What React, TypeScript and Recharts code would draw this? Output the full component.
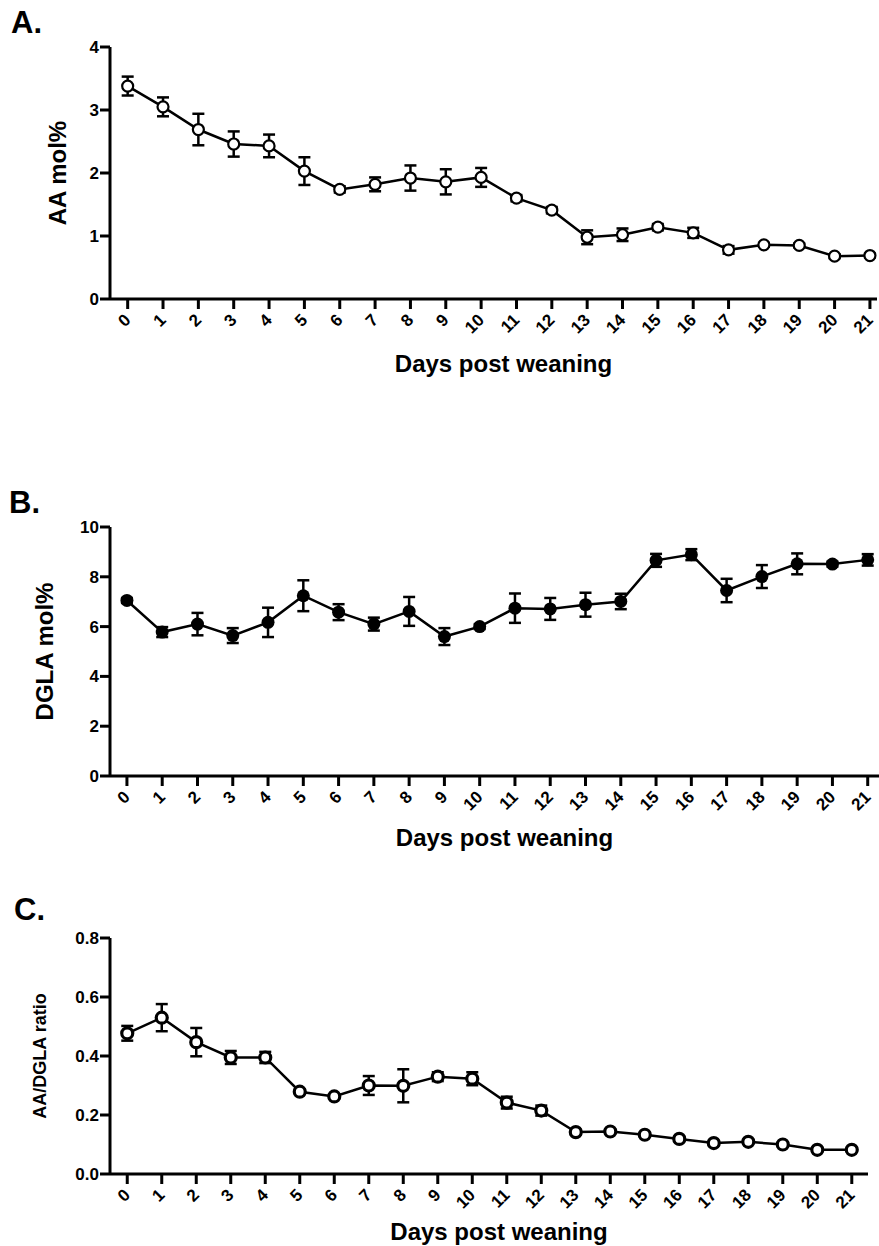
import { LineChart, Line, XAxis, YAxis, ErrorBar } from 'recharts'

const FONT = '"Liberation Sans", Arial, Helvetica, sans-serif'

const days = [0, 1, 2, 3, 4, 5, 6, 7, 8, 9, 10, 11, 12, 13, 14, 15, 16, 17, 18, 19, 20, 21]

const aaMean = [3.38, 3.05, 2.69, 2.46, 2.43, 2.03, 1.74, 1.82, 1.92, 1.86, 1.93, 1.6, 1.41, 0.98, 1.02, 1.14, 1.05, 0.78, 0.86, 0.85, 0.68, 0.69]
const aaSem = [0.15, 0.15, 0.25, 0.2, 0.18, 0.22, 0.05, 0.11, 0.2, 0.2, 0.15, 0.05, 0.05, 0.11, 0.1, 0.05, 0.08, 0.06, 0.03, 0.03, 0.03, 0.03]

const dglaMean = [7.05, 5.78, 6.1, 5.64, 6.17, 7.24, 6.58, 6.1, 6.61, 5.6, 6.0, 6.74, 6.71, 6.88, 7.01, 8.66, 8.89, 7.45, 8.01, 8.52, 8.51, 8.68]
const dglaSem = [0.1, 0.2, 0.45, 0.3, 0.59, 0.62, 0.32, 0.26, 0.58, 0.34, 0.1, 0.59, 0.44, 0.48, 0.31, 0.26, 0.22, 0.47, 0.46, 0.42, 0.1, 0.23]

const ratioMean = [0.477, 0.53, 0.447, 0.395, 0.395, 0.279, 0.263, 0.3, 0.299, 0.33, 0.323, 0.242, 0.215, 0.142, 0.144, 0.133, 0.119, 0.105, 0.109, 0.1, 0.082, 0.082]
const ratioSem = [0.025, 0.046, 0.048, 0.022, 0.019, 0.008, 0.007, 0.032, 0.056, 0.015, 0.022, 0.02, 0.017, 0.008, 0.008, 0.007, 0.007, 0.007, 0.007, 0.007, 0.007, 0.007]

const aaTicks = [0, 1, 2, 3, 4]
const dglaTicks = [0, 2, 4, 6, 8, 10]
const ratioTicks = [0, 0.2, 0.4, 0.6, 0.8]

const rows = days.map((d, i) => ({
  day: d,
  aa: aaMean[i],
  aaErr: aaSem[i],
  dgla: dglaMean[i],
  dglaErr: dglaSem[i],
  ratio: ratioMean[i],
  ratioErr: ratioSem[i],
}))

const XTick = (props: any) => {
  const { x, y, payload } = props
  const tx = x + 4
  const ty = y + 12
  return (
    <text x={tx} y={ty} transform={`rotate(-45 ${tx} ${ty})`} textAnchor="end"
      style={{ fontSize: 17, fontWeight: 'bold', fontFamily: FONT }} fill="#000">
      {payload.value}
    </text>
  )
}

const yTick = { fontSize: 17, fontWeight: 'bold', fontFamily: FONT, fill: '#000' }

function XTitle({ viewBox, baseline }: any) {
  return (
    <text x={viewBox.x + viewBox.width / 2 + 10} y={baseline} textAnchor="middle"
      fontSize={24} fontWeight="bold" fontFamily={FONT} fill="#000">
      Days post weaning
    </text>
  )
}

function YTitle({ viewBox, text, cx, size }: any) {
  const cy = viewBox.y + viewBox.height / 2
  return (
    <text x={cx} y={cy} transform={`rotate(-90 ${cx} ${cy})`} textAnchor="middle" dy="0.36em"
      fontSize={size} fontWeight="bold" fontFamily={FONT} fill="#000">
      {text}
    </text>
  )
}

const openDot = (sw: number) => (p: any) => (
  <circle key={p.index} cx={p.cx} cy={p.cy} r={5.5} fill="#fff" stroke="#000" strokeWidth={sw} />
)
const filledDot = (p: any) => <circle key={p.index} cx={p.cx} cy={p.cy} r={6.5} fill="#000" />

const Letter = ({ text, top, left }: { text: string; top: number; left: number }) => (
  <div style={{ position: 'absolute', top, left, fontSize: 31, lineHeight: '31px', fontWeight: 'bold', fontFamily: FONT }}>
    {text}
  </div>
)

interface PanelProps {
  top: number
  height: number
  margin: { top: number; right: number; bottom: number; left: number }
  xHeight: number
  xDomain: [number, number]
  yDomain: [number, number]
  yTicks: number[]
  yFormat?: (v: number) => string
  dataKey: string
  errKey: string
  dot: any
  yTitle: string
  yTitleX: number
  yTitleSize: number
  titleBaseline: number
}

function Panel(p: PanelProps) {
  return (
    <div style={{ position: 'absolute', top: p.top, left: 0 }}>
      <LineChart width={879} height={p.height} data={rows} margin={p.margin}>
        <XAxis dataKey="day" type="number" domain={p.xDomain} ticks={days} interval={0}
          allowDataOverflow stroke="#000" strokeWidth={3} tickSize={10} tickMargin={0}
          tickLine={{ stroke: '#000', strokeWidth: 3 }} height={p.xHeight} tick={<XTick />}
          label={{ content: (lp: any) => <XTitle viewBox={lp.viewBox} baseline={p.titleBaseline} /> }} />
        <YAxis type="number" domain={p.yDomain} ticks={p.yTicks} interval={0} width={110}
          stroke="#000" strokeWidth={3} tickSize={10} tickMargin={1} tick={yTick}
          tickLine={{ stroke: '#000', strokeWidth: 3 }} tickFormatter={p.yFormat}
          label={{ content: (lp: any) => <YTitle viewBox={lp.viewBox} text={p.yTitle} cx={p.yTitleX} size={p.yTitleSize} /> }} />
        <Line dataKey={p.dataKey} stroke="#000" strokeWidth={2.5} dot={p.dot} activeDot={false}
          isAnimationActive={false} />
        <Line dataKey={p.dataKey} stroke="none" dot={false} activeDot={false} isAnimationActive={false}>
          <ErrorBar dataKey={p.errKey} direction="y" width={6} stroke="#000" strokeWidth={2.5} isAnimationActive={false} />
        </Line>
      </LineChart>
    </div>
  )
}

export default function App() {
  return (
    <div style={{ position: 'absolute', top: 0, left: 0, width: 879, height: 1246, background: '#fff' }}>
      <Letter text="A." top={7} left={11} />
      <Letter text="B." top={487} left={9} />
      <Letter text="C." top={894} left={14} />

      <Panel top={0} height={380} margin={{ top: 47, right: 2, bottom: 0, left: 0 }} xHeight={81}
        xDomain={[-0.5, 21.2]} yDomain={[0, 4]} yTicks={aaTicks} dataKey="aa" errKey="aaErr"
        dot={openDot(2.2)} yTitle="AA mol%" yTitleX={57} yTitleSize={24} titleBaseline={372} />

      <Panel top={470} height={400} margin={{ top: 57, right: 0, bottom: 0, left: 0 }} xHeight={94}
        xDomain={[-0.48, 21.32]} yDomain={[0, 10]} yTicks={dglaTicks} dataKey="dgla" errKey="dglaErr"
        dot={filledDot} yTitle="DGLA mol%" yTitleX={44} yTitleSize={24} titleBaseline={376} />

      <Panel top={880} height={366} margin={{ top: 58, right: 11, bottom: 0, left: 0 }} xHeight={72}
        xDomain={[-0.5, 21.47]} yDomain={[0, 0.8]} yTicks={ratioTicks} yFormat={(v: number) => v.toFixed(1)}
        dataKey="ratio" errKey="ratioErr" dot={openDot(3.2)} yTitle="AA/DGLA ratio" yTitleX={40}
        yTitleSize={18} titleBaseline={360} />
    </div>
  )
}
